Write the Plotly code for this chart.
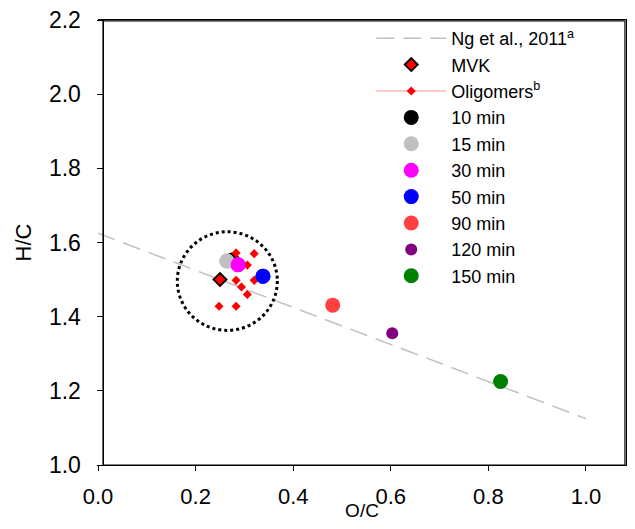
import plotly.graph_objects as go

# Reference line (Ng et al., 2011)
ng_x = [0.0, 1.0]
ng_y = [1.625, 1.125]

# MVK
mvk_x = [0.25]
mvk_y = [1.50]

# Oligomers
olig_x = [0.283, 0.320, 0.306, 0.283, 0.320, 0.294, 0.306, 0.248, 0.283]
olig_y = [1.572, 1.570, 1.539, 1.498, 1.498, 1.480, 1.460, 1.428, 1.428]

# Time series points
time_labels = ["10 min", "15 min", "30 min", "50 min", "90 min", "120 min", "150 min"]
time_x = [0.275, 0.264, 0.287, 0.338, 0.481, 0.603, 0.825]
time_y = [1.553, 1.550, 1.540, 1.509, 1.431, 1.355, 1.225]
time_colors = ["#000000", "#c0c0c0", "#ff00ff", "#0000ff", "#ff4040", "#800080", "#008000"]
time_sizes = [15, 15, 15, 15, 15, 12, 15]

# Axis ticks
x_ticks = [0.0, 0.2, 0.4, 0.6, 0.8, 1.0]
x_ticklabels = ["0.0", "0.2", "0.4", "0.6", "0.8", "1.0"]
y_ticks = [1.0, 1.2, 1.4, 1.6, 1.8, 2.0, 2.2]
y_ticklabels = ["1.0", "1.2", "1.4", "1.6", "1.8", "2.0", "2.2"]

# Highlight circle (data coords)
circle_x = [0.1625, 0.3675]
circle_y = [1.363, 1.629]

FONT = "Liberation Sans, Arial, sans-serif"
YDOM0 = 8 / 453  # plot area bottom sits 8px above the paper bottom
XPOS = 5 / 528   # left frame / y axis sits 5px right of x = 0
XRANGE = [0, 1.082]
YRANGE = [1.0, 2.2]

fig = go.Figure()

fig.add_trace(go.Scatter(
    x=ng_x, y=ng_y, mode="lines", name="Ng et al., 2011<sup>a</sup>",
    line=dict(color="#c0c0c0", width=1.5, dash="18px,9px"), cliponaxis=False))

fig.add_trace(go.Scatter(
    x=mvk_x, y=mvk_y, mode="markers", name="MVK",
    marker=dict(symbol="diamond", size=10, color="#ff0000",
                line=dict(color="black", width=1.8))))

# Legend entry for oligomers (line + marker)
fig.add_trace(go.Scatter(
    x=[None], y=[None], mode="lines+markers", name="Oligomers<sup>b</sup>",
    line=dict(color="#ff9090", width=1),
    marker=dict(symbol="diamond", size=7, color="#ff0000")))

for lab, x, y, c, s in zip(time_labels, time_x, time_y, time_colors, time_sizes):
    fig.add_trace(go.Scatter(
        x=[x], y=[y], mode="markers", name=lab,
        marker=dict(symbol="circle", size=s, color=c, line=dict(width=0))))

fig.add_trace(go.Scatter(
    x=olig_x, y=olig_y, mode="markers", showlegend=False,
    marker=dict(symbol="diamond", size=7, color="#ff0000")))

# redraw some time points on top (they sit above oligomer markers)
for i in [1, 2, 3]:
    fig.add_trace(go.Scatter(
        x=[time_x[i]], y=[time_y[i]], mode="markers", showlegend=False,
        marker=dict(symbol="circle", size=time_sizes[i], color=time_colors[i], line=dict(width=0))))

# empty traces so the helper axes get drawn
fig.add_trace(go.Scatter(x=[None], y=[None], xaxis="x2", yaxis="y",
                         showlegend=False, hoverinfo="skip"))
fig.add_trace(go.Scatter(x=[None], y=[None], xaxis="x", yaxis="y2",
                         showlegend=False, hoverinfo="skip"))

fig.add_shape(type="circle", xref="x", yref="y",
              x0=circle_x[0], x1=circle_x[1], y0=circle_y[0], y1=circle_y[1],
              line=dict(color="black", width=3, dash="dot"))

# frame box
fig.add_shape(type="rect", xref="paper", yref="paper", layer="above",
              x0=XPOS, x1=0.998, y0=YDOM0, y1=0.998,
              line=dict(color="black", width=1.2))

fig.update_layout(
    width=619, height=513,
    margin=dict(l=90, r=1, t=12, b=48),
    paper_bgcolor="white", plot_bgcolor="white",
    font=dict(family=FONT, size=21, color="black"),
    showlegend=True,
    legend=dict(x=0.5175, y=1.0, xanchor="left", yanchor="top",
                bgcolor="rgba(0,0,0,0)", borderwidth=0,
                font=dict(family=FONT, size=18), itemwidth=70,
                tracegroupgap=0),
    xaxis=dict(range=XRANGE, tickvals=x_ticks, ticktext=x_ticklabels,
               showticklabels=False, mirror=True,
               showgrid=False, zeroline=False, showline=True, linecolor="black",
               ticks="outside", ticklen=5, tickcolor="black", automargin=False),
    xaxis2=dict(range=XRANGE, matches="x", overlaying="x", anchor="free", position=0,
                side="bottom", tickvals=x_ticks, ticktext=x_ticklabels,
                showgrid=False, zeroline=False, showline=False,
                ticks="outside", ticklen=4, tickcolor="rgba(0,0,0,0)", automargin=False,
                tickfont=dict(size=22), ticklabeloverflow="allow",
                title=dict(text="O/C", standoff=0, font=dict(size=19))),
    yaxis=dict(range=YRANGE, domain=[YDOM0, 1], tickvals=y_ticks,
               ticktext=[t + "\u2002" for t in y_ticklabels],
               showgrid=False, zeroline=False, showline=True, linecolor="black",
               anchor="free", position=XPOS, automargin=False,
               ticks="outside", ticklen=6, tickcolor="black", ticklabeloverflow="allow",
               tickfont=dict(size=23),
               title=dict(text="H/C", standoff=10, font=dict(size=22))),
    yaxis2=dict(range=YRANGE, matches="y", overlaying="y", side="right", anchor="x",
                showline=True, linecolor="black", ticks="", showticklabels=False,
                showgrid=False, zeroline=False, automargin=False),
)

fig.write_html("out.html")
